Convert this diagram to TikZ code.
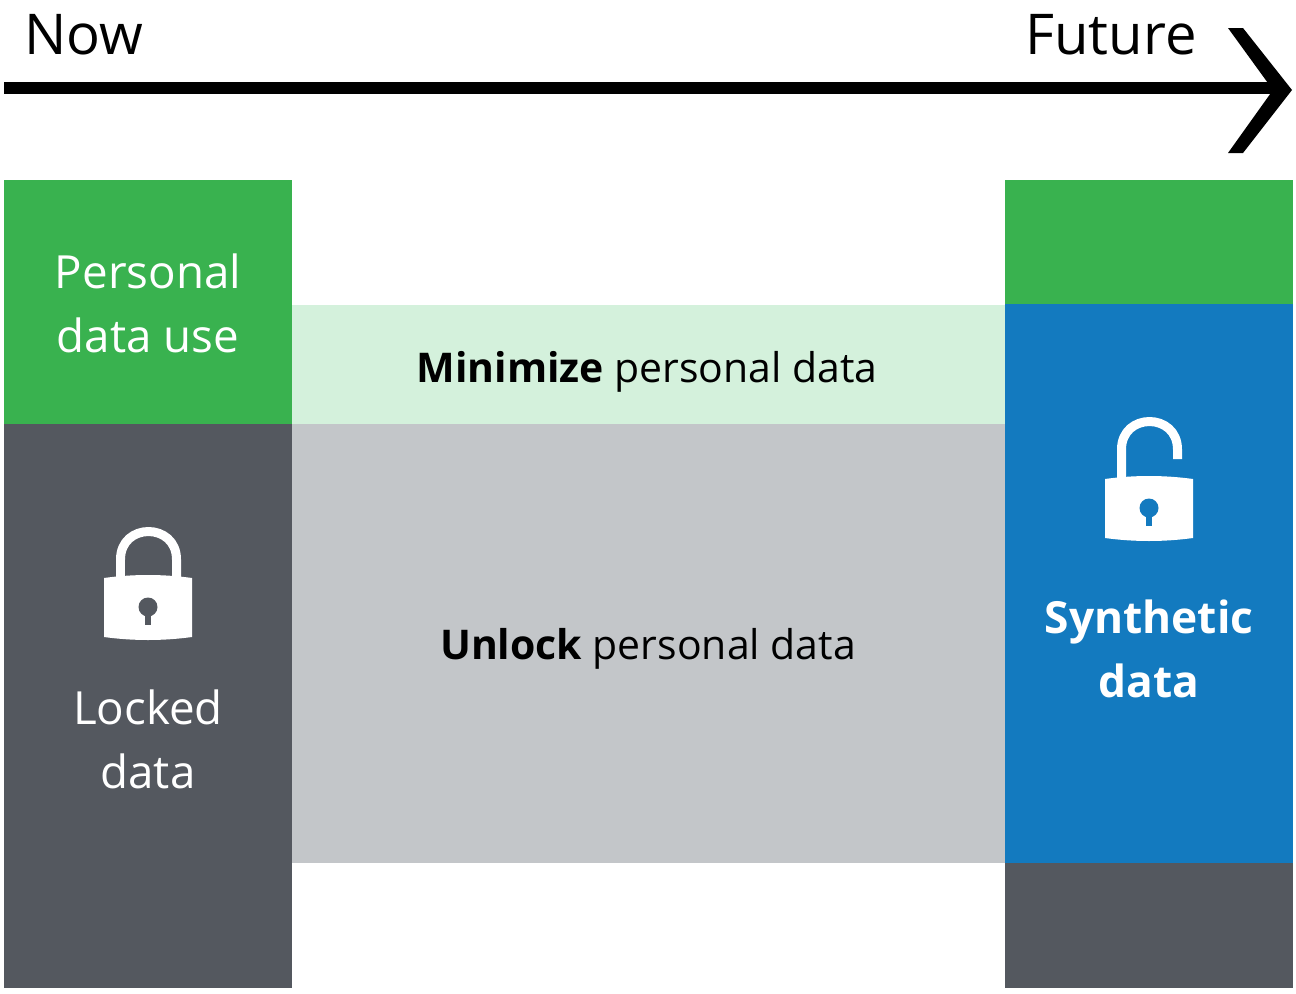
\documentclass[tikz,border=0pt]{standalone}
\usepackage{fontspec}
\setmainfont{Open Sans}
\definecolor{datagreen}{HTML}{39B24F}
\definecolor{paleGreen}{HTML}{D4F1DC}
\definecolor{lockgrey}{HTML}{54585F}
\definecolor{palegrey}{HTML}{C3C6C9}
\definecolor{synthblue}{HTML}{137ABF}
\tikzset{
  biglabel/.style={align=center, font=\fontsize{26}{36.5}\selectfont, text=white, inner sep=0pt},
  timelabel/.style={font=\fontsize{32}{38}\selectfont, inner sep=0pt},
  midlabel/.style={font=\fontsize{23.3}{28}\selectfont, inner sep=0pt},
  lockbody/.pic={
    \fill[white] (-44,-30) .. controls (-15,-34) and (15,-34) .. (44,-30) -- (44,29)
      .. controls (15,33) and (-15,33) .. (-44,29) -- cycle;
    \fill[#1] (0,-1) circle (9.5);
    \fill[#1] (-3,0) rectangle (3.3,17);
  }
}
\begin{document}
\begin{tikzpicture}[x=0.02cm,y=-0.02cm]
\useasboundingbox (0,0) rectangle (1296,994);

% left column
\fill[datagreen] (4,180) rectangle (292,424);
\fill[lockgrey] (4,424) rectangle (292,988);

% middle
\fill[paleGreen] (292,305) rectangle (1005,424);
\fill[palegrey] (292,424) rectangle (1005,863);

% right column
\fill[datagreen] (1005,180) rectangle (1293,304);
\fill[synthblue] (1005,304) rectangle (1293,863);
\fill[lockgrey] (1005,863) rectangle (1293,988);

% time axis
\coordinate (now) at (4,87.5);
\coordinate (future) at (1280,87.5);
\draw[line width=0.24cm] (now) to (future);
\fill (1228,28) -- (1243,28) -- (1292,90) -- (1243,153) -- (1228,153) -- (1273,90) -- cycle;
\node[timelabel] (nowlabel) at (84,35) {Now};
\node[timelabel] (futurelabel) at (1111,35) {Future};

% labels
\node[biglabel] (personal) at (148,303) {Personal\\data use};
\node[biglabel] (locked) at (148,739) {Locked\\data};
\node[biglabel, font=\fontsize{25.2}{36.5}\selectfont\bfseries] (synthetic) at (1149,649) {Synthetic\\data};
\node[midlabel] (minimize) at (647,372) {\textbf{Minimize} personal data};
\node[midlabel] (unlock) at (648,649) {\textbf{Unlock} personal data};

% closed lock
\draw[white, line width=0.18cm] (120.5,580) -- (120.5,559.5) .. controls (120.5,522.2) and (176.5,522.2) .. (176.5,559.5) -- (176.5,580);
\pic at (148,608) {lockbody=lockgrey};

% open lock
\draw[white, line width=0.18cm] (1121.5,482) -- (1121.5,449.5) .. controls (1121.5,412.2) and (1177.5,412.2) .. (1177.5,449.5) -- (1177.5,459);
\pic at (1149,509) {lockbody=synthblue};
\end{tikzpicture}
\end{document}
